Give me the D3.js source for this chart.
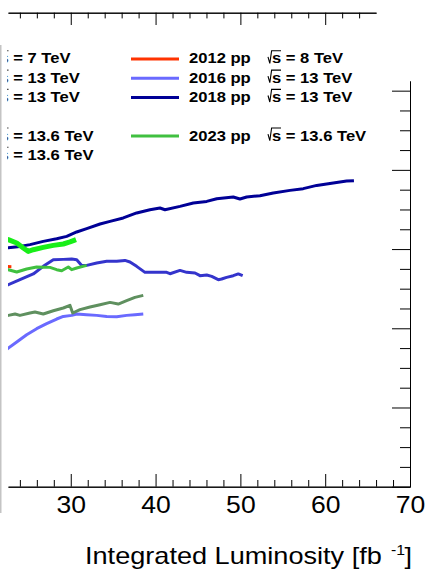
<!DOCTYPE html>
<html>
<head>
<meta charset="utf-8">
<script src="https://cdn.jsdelivr.net/npm/d3@7"></script>
<style>
  html, body { margin: 0; padding: 0; background: #fff; }
  svg { display: block; font-family: "Liberation Sans", Arial, Helvetica, sans-serif; }
</style>
</head>
<body>
<div id="chart"></div>
<script>
// Pile-up per data-taking year as a function of integrated luminosity [fb^-1].
// Each series: [integrated luminosity, mean interactions per crossing]
const run2012 = [[21.5, 27.6], [22.3, 27.8], [23.0, 27.78]];

const run2016 = [
  [22.0, 16.9], [22.64, 17.51], [23.63, 18.27], [24.80, 19.19], [25.98, 19.95],
  [27.16, 20.58], [28.34, 21.17], [29.12, 21.50], [30.11, 21.63], [30.70, 21.81],
  [31.88, 21.72], [33.06, 21.63], [34.24, 21.50], [35.42, 21.46], [36.59, 21.63],
  [37.57, 21.72], [38.55, 21.81]
];

const run2017 = [
  [22.0, 25.2], [22.64, 25.51], [24.01, 26.14], [25.58, 26.86], [26.76, 27.82],
  [27.94, 28.66], [29.12, 28.70], [30.11, 28.75], [30.70, 28.66], [31.29, 27.94],
  [31.88, 27.94], [33.06, 28.25], [34.24, 28.45], [35.42, 28.45], [36.39, 28.57],
  [36.98, 28.37], [37.77, 27.82], [38.75, 27.06], [41.31, 27.06], [41.70, 26.89],
  [42.88, 27.31], [43.67, 27.06], [44.65, 26.98], [45.24, 26.64], [46.03, 26.73],
  [46.62, 26.55], [47.39, 26.14], [47.79, 26.22], [48.38, 26.43], [49.16, 26.64],
  [49.75, 26.86], [50.27, 26.64]
];

const run2018 = [
  [22.0, 30.1], [22.64, 30.18], [24.01, 30.34], [25.19, 30.56], [26.76, 30.97],
  [28.34, 31.31], [29.52, 31.60], [30.70, 32.16], [31.88, 32.58], [33.45, 33.17],
  [34.63, 33.50], [36.19, 33.93], [37.77, 34.56], [39.34, 34.97], [40.52, 35.19],
  [41.11, 34.97], [42.88, 35.39], [44.45, 35.82], [46.03, 36.02], [47.21, 36.36],
  [49.16, 36.58], [49.95, 36.33], [50.74, 36.58], [52.31, 36.74], [53.88, 37.08],
  [55.85, 37.41], [57.41, 37.63], [59.00, 38.04], [60.95, 38.35], [62.53, 38.60],
  [63.39, 38.64]
];

const run2022 = [
  [22.0, 21.5], [22.64, 21.63], [23.43, 21.81], [24.01, 21.63], [25.19, 21.93],
  [25.78, 22.06], [26.76, 21.81], [27.94, 22.22], [29.12, 22.56], [29.91, 22.89],
  [30.23, 21.93], [31.09, 22.35], [32.27, 22.69], [33.45, 22.98], [34.63, 23.27],
  [35.60, 23.06], [36.59, 23.48], [37.57, 23.90], [38.55, 24.15]
];

const run2023 = [
  [22.0, 27.5], [22.64, 27.40], [23.63, 27.11], [24.80, 27.49], [25.98, 27.74],
  [27.55, 27.69], [28.34, 27.40], [28.93, 27.27], [29.71, 27.74], [30.11, 27.40],
  [30.70, 27.61], [31.88, 27.94]
];

const run2024 = [
  [22.0, 31.4], [22.64, 31.19], [23.63, 30.77], [24.40, 30.14], [24.99, 29.71],
  [25.58, 29.92], [26.76, 30.21], [27.94, 30.47], [29.12, 30.64], [29.91, 30.90],
  [30.62, 31.19]
];

// Legend entries (two columns)
const legendLeftYears = ["2011 pp", "2015 pp", "2017 pp", "2022 pp", "2024 pp"];
const legendLeftEnergies = ["7", "13", "13", "13.6", "13.6"];
const legendRightYears = ["2012 pp", "2016 pp", "2018 pp", "2023 pp"];
const legendRightEnergies = ["8", "13", "13", "13.6"];

// Axis ticks
const xMajorTicks = [30, 40, 50, 60, 70];
const xMinorTicks = d3.range(24, 70, 2).filter(v => v % 10 !== 0);
const xTopMajorTicks = [30, 40, 50, 60];
const xTopMinorTicks = d3.range(24, 66, 2).filter(v => v % 10 !== 0);
const yMajorTicks = [0, 10, 20, 30, 40, 50];
const yMinorTicks = d3.range(0, 51, 2.5).filter(v => v % 10 !== 0);

// ---- styles ----
const colors = {
  "2011 pp": "#ff9f9f", "2012 pp": "#ff3300", "2015 pp": "#9f9fff",
  "2016 pp": "#6a6aff", "2017 pp": "#3434cc", "2018 pp": "#000096",
  "2022 pp": "#5f905f", "2023 pp": "#40c040", "2024 pp": "#18ee18"
};
const widths = { "2024 pp": 5 };

const W = 436, H = 569;
const x = d3.scaleLinear().domain([22.6, 70]).range([8, 410]);
const y = d3.scaleLinear().domain([0, 51.22]).range([486.7, 81]);
const xTop = d3.scaleLinear().domain([22.6, 66]).range([x(22.6), x(66)]);

const svg = d3.select("#chart").append("svg").attr("width", W).attr("height", H);
svg.append("rect").attr("width", W).attr("height", H).attr("fill", "#fff");

// faint canvas edge on the left
svg.append("rect").attr("x", 0).attr("y", 45).attr("width", 1.5).attr("height", 468).attr("fill", "#c4c4c4");

const defs = svg.append("defs");
defs.append("clipPath").attr("id", "frame")
  .append("rect").attr("x", x(22.6)).attr("y", y(51.22))
  .attr("width", x(70) - x(22.6)).attr("height", y(0) - y(51.22));
defs.append("clipPath").attr("id", "legclip")
  .append("rect").attr("x", 7.3).attr("y", 0).attr("width", W).attr("height", 200);

// ---- curves ----
const series = [
  { key: "2012 pp", pts: run2012 },
  { key: "2016 pp", pts: run2016 },
  { key: "2017 pp", pts: run2017 },
  { key: "2018 pp", pts: run2018 },
  { key: "2022 pp", pts: run2022 },
  { key: "2023 pp", pts: run2023 },
  { key: "2024 pp", pts: run2024 }
];
const line = d3.line().x(d => x(d[0])).y(d => y(d[1]));
svg.append("g").attr("clip-path", "url(#frame)")
  .selectAll("path").data(series).join("path")
  .attr("d", d => line(d.pts))
  .attr("fill", "none")
  .attr("stroke", d => colors[d.key])
  .attr("stroke-width", d => widths[d.key] || 3)
  .attr("stroke-linejoin", "round");

// ---- axes ----
function styleAxis(g) {
  g.selectAll("path, line").attr("stroke", "#000").attr("stroke-width", 1);
}

// bottom
const gb = svg.append("g").attr("transform", `translate(0,${y(0)})`);
gb.append("g").call(d3.axisBottom(x).tickValues(xMinorTicks).tickSize(-6.7).tickSizeOuter(0).tickFormat("")).call(styleAxis);
const gbm = gb.append("g").call(d3.axisBottom(x).tickValues(xMajorTicks).tickSize(-12.7).tickSizeOuter(0).tickFormat(d3.format("d"))).call(styleAxis);
gbm.selectAll("text")
  .attr("y", 26.6).attr("dy", 0)
  .attr("transform", "scale(1.14,1)")
  .attr("font-size", 23.3).attr("font-family", "Liberation Sans, Arial, sans-serif")
  .attr("fill", "#000");

// top
const gt = svg.append("g").attr("transform", "translate(0,12.7)");
gt.append("g").call(d3.axisTop(xTop).tickValues(xTopMinorTicks).tickSize(-5.7).tickSizeOuter(0).tickFormat("")).call(styleAxis);
gt.append("g").call(d3.axisTop(xTop).tickValues(xTopMajorTicks).tickSize(-12.3).tickSizeOuter(0).tickFormat("")).call(styleAxis);

// right
const gr = svg.append("g").attr("transform", `translate(${x(70)},0)`);
gr.append("g").call(d3.axisRight(y).tickValues(yMinorTicks).tickSize(-10).tickSizeOuter(0).tickFormat("")).call(styleAxis);
gr.append("g").call(d3.axisRight(y).tickValues(yMajorTicks).tickSize(-18).tickSizeOuter(0).tickFormat("")).call(styleAxis);

// axis title
const title = svg.append("g").attr("fill", "#000");
title.append("text").attr("transform", "translate(85,564) scale(1.13,1)")
  .attr("font-size", 24).text("Integrated Luminosity [fb");
title.append("text").attr("transform", "translate(391,555) scale(1.13,1)")
  .attr("font-size", 14).text("-1");
title.append("text").attr("transform", "translate(404.5,564) scale(1.13,1)")
  .attr("font-size", 24).text("]");

// ---- legend ----
const legend = svg.append("g").attr("clip-path", "url(#legclip)")
  .attr("font-size", 15.5).attr("font-weight", "bold").attr("fill", "#000");
const rowSlots = [0, 1, 2, 4, 5];
const rowBase = r => 63.4 + 19.3 * r;

function legendEntry(x0, base, label, energy) {
  const g = legend.append("g");
  g.append("line")
    .attr("x1", x0).attr("x2", x0 + 48)
    .attr("y1", base - 4.5).attr("y2", base - 4.5)
    .attr("stroke", colors[label]).attr("stroke-width", widths[label] || 3);
  g.append("text").attr("transform", `translate(${x0 + 58},${base}) scale(1.07,1)`).text(label);
  g.append("path")
    .attr("d", `M${x0 + 137},${base - 6.5}L${x0 + 138.8},${base}L${x0 + 140.6},${base - 12.6}H${x0 + 150}`)
    .attr("fill", "none").attr("stroke", "#000").attr("stroke-width", 1.1);
  g.append("text").attr("transform", `translate(${x0 + 141},${base}) scale(1.07,1)`).text(`s = ${energy} TeV`);
}
legendLeftYears.forEach((lab, i) => legendEntry(-141.6, rowBase(rowSlots[i]), lab, legendLeftEnergies[i]));
legendRightYears.forEach((lab, i) => legendEntry(131, rowBase(rowSlots[i]), lab, legendRightEnergies[i]));
</script>
</body>
</html>
